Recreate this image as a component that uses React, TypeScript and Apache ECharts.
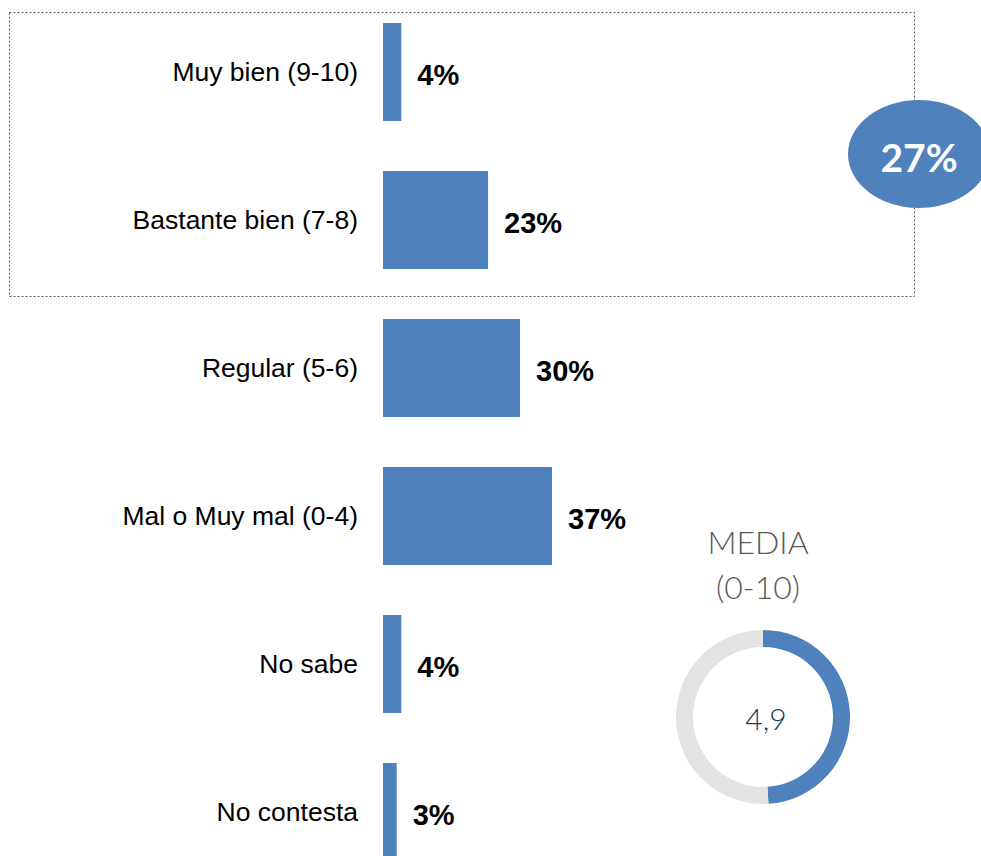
import React, { useEffect, useRef } from "react";
import * as echarts from "echarts";

const categories = [
  "Muy bien (9-10)",
  "Bastante bien (7-8)",
  "Regular (5-6)",
  "Mal o Muy mal (0-4)",
  "No sabe",
  "No contesta",
];
const values = [4, 23, 30, 37, 4, 3];
const positiveTotal = "27%";
const mediaValue = 4.9;
const mediaMax = 10;
const mediaLabel = "4,9";

export default function App() {
  const ref = useRef<HTMLDivElement>(null);
  useEffect(() => {
    document.body.style.margin = "0";
    const chart = echarts.init(ref.current!, null, { renderer: "svg" });
    chart.setOption({
      animation: false,
      grid: {
        left: 383,
        top: -2,
        width: 456.8,
        height: 888,
        containLabel: false,
        outerBoundsMode: "none",
      },
      xAxis: { type: "value", min: 0, max: 100, show: false },
      yAxis: {
        type: "category",
        data: categories,
        inverse: true,
        axisLine: { show: false },
        axisTick: { show: false },
        splitLine: { show: false },
        axisLabel: {
          margin: 25,
          fontFamily: "Liberation Sans, Arial",
          fontSize: 26.5,
          color: "#000",
        },
      },
      series: [
        {
          type: "bar",
          data: values,
          barWidth: 98,
          itemStyle: { color: "#4F81BD" },
          label: {
            show: true,
            position: "right",
            distance: 16,
            formatter: "{c}%",
            fontFamily: "Liberation Sans, Arial",
            fontWeight: "bold",
            fontSize: 29,
            color: "#000",
            offset: [0, 3],
          },
        },
        {
          type: "pie",
          center: [763, 717],
          radius: [70, 87],
          startAngle: 90,
          clockwise: true,
          silent: true,
          label: { show: false },
          labelLine: { show: false },
          data: [
            { value: mediaValue, itemStyle: { color: "#4F81BD" } },
            { value: mediaMax - mediaValue, itemStyle: { color: "#E3E3E3" } },
          ],
        },
      ],
      graphic: [
        {
          type: "rect",
          shape: { x: 9.5, y: 12.5, width: 905, height: 284 },
          style: { fill: "none", stroke: "#44546A", lineWidth: 1, lineDash: [2, 2] },
        },
        {
          type: "ellipse",
          shape: { cx: 919, cy: 154, rx: 71, ry: 54 },
          style: { fill: "#4F81BD" },
        },
        {
          type: "text",
          x: 919,
          y: 157,
          style: {
            text: positiveTotal,
            fill: "#fff",
            fontFamily: "Lato, Open Sans, sans-serif",
            fontWeight: "bold",
            fontSize: 39,
            align: "center",
            verticalAlign: "middle",
          },
        },
        {
          type: "text",
          x: 758,
          y: 541,
          style: {
            text: "MEDIA",
            fill: "#595959",
            fontFamily: "Lato, Open Sans, sans-serif",
            fontWeight: 300,
            fontSize: 32,
            align: "center",
            verticalAlign: "middle",
          },
        },
        {
          type: "text",
          x: 758,
          y: 586,
          style: {
            text: "(0-10)",
            fill: "#595959",
            fontFamily: "Lato, Open Sans, sans-serif",
            fontWeight: 300,
            fontSize: 32,
            align: "center",
            verticalAlign: "middle",
          },
        },
        {
          type: "text",
          x: 766,
          y: 718,
          style: {
            text: mediaLabel,
            fill: "#203864",
            fontFamily: "Lato, Open Sans, sans-serif",
            fontWeight: 300,
            fontSize: 30,
            align: "center",
            verticalAlign: "middle",
          },
        },
      ],
    });
    return () => chart.dispose();
  }, []);
  return (
    <div
      ref={ref}
      style={{ position: "absolute", left: 0, top: 0, width: 981, height: 856 }}
    />
  );
}
